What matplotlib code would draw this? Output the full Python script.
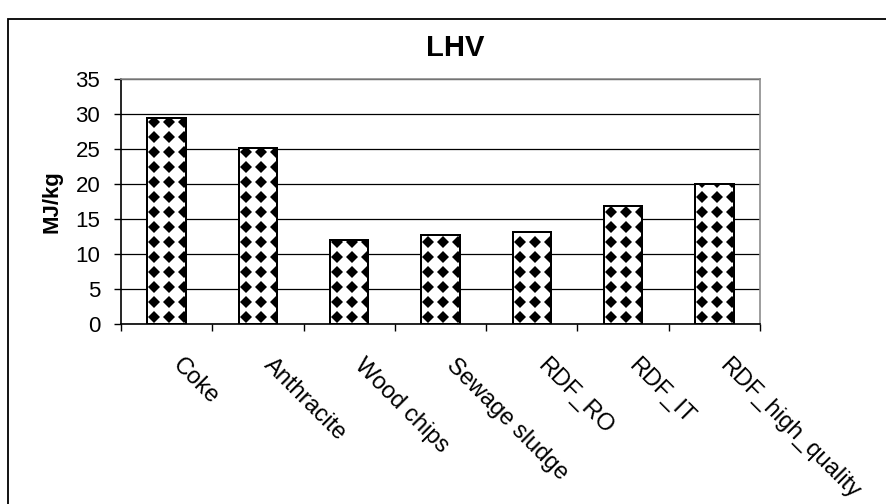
import matplotlib
matplotlib.use("Agg")
import matplotlib.pyplot as plt
import numpy as np
from matplotlib.patches import Rectangle
from matplotlib.transforms import ScaledTranslation

categories = ["Coke", "Anthracite", "Wood chips", "Sewage sludge", "RDF_RO", "RDF_IT", "RDF_high_quality"]
lhv = [29.5, 25.2, 12.0, 12.7, 13.1, 16.9, 20.0]
yticks = [0, 5, 10, 15, 20, 25, 30, 35]

plt.rcParams['font.family'] = ['Liberation Sans', 'DejaVu Sans']

W, H, DPI = 886, 504, 100
fig = plt.figure(figsize=(W / DPI, H / DPI), dpi=DPI)
fig.patch.set_facecolor('white')

# outer chart frame (cut off at right and bottom)
fig.add_artist(Rectangle((8 / W, -0.2), 1.2, 1.2 - 19 / H,
                         transform=fig.transFigure, fill=False, edgecolor='black', lw=1.3))

ax = fig.add_axes([121 / W, 1 - 324 / H, (760 - 121) / W, (324 - 79) / H])
x = np.arange(len(categories))
ax.set_xlim(-0.5, len(categories) - 0.5)
ax.set_ylim(0, 35)
ax.set_yticks(yticks)
ax.yaxis.grid(True, color='black', lw=0.9)
ax.set_axisbelow(True)

bars = ax.bar(x, lhv, width=0.42, facecolor='white', edgecolor='black', lw=1.4, zorder=2)

# diamond pattern inside each bar, laid out in pixel space
fig.canvas.draw()
inv = ax.transData.inverted()
sp = 15.0
for b in bars:
    (x0, y0), (x1, y1) = ax.transData.transform([(b.get_x(), 0), (b.get_x() + b.get_width(), b.get_height())])
    xs = np.arange(x0 + 7, x1 + sp, sp)
    ys = np.arange(y0 + 7, y1 + sp, sp)
    XX, YY = np.meshgrid(xs, ys)
    pts = inv.transform(np.column_stack([XX.ravel(), YY.ravel()]))
    ln, = ax.plot(pts[:, 0], pts[:, 1], linestyle='none', marker='D', ms=6.4,
                  mfc='black', mec='black', mew=0, zorder=3)
    ln.set_clip_path(b)
    ax.add_patch(Rectangle((b.get_x(), 0), b.get_width(), b.get_height(), fill=False,
                           edgecolor='black', lw=1.4, zorder=4))

for s in ['top', 'right']:
    ax.spines[s].set_color('#8c8c8c')
    ax.spines[s].set_linewidth(1.2)
for s in ['left', 'bottom']:
    ax.spines[s].set_color('black')
    ax.spines[s].set_linewidth(1.2)

FS = 16
ax.tick_params(axis='y', direction='out', length=5, width=1, pad=10, labelsize=FS)
ax.set_xticks(x)
ax.set_xticklabels([])
ax.tick_params(axis='x', which='major', length=0)
ax.set_xticks(np.arange(-0.5, len(categories), 1.0), minor=True)
ax.tick_params(axis='x', which='minor', direction='out', length=5, width=1)

off = ScaledTranslation(9 / DPI, -38 / DPI, fig.dpi_scale_trans)
for xi, lab in zip(x, categories):
    ax.text(xi, 0, lab, transform=ax.get_xaxis_transform() + off, rotation=-45,
            rotation_mode='anchor', ha='left', va='center', fontsize=17)

ax.set_ylabel("MJ/kg", fontsize=FS, fontweight='bold')
ax.yaxis.set_label_coords((62 - 121) / (760 - 121), 0.5)

fig.text(455 / W, 1 - 48 / H, "LHV", ha='center', va='center', fontsize=21, fontweight='bold')

fig.savefig("out.png", dpi=DPI, facecolor='white')
